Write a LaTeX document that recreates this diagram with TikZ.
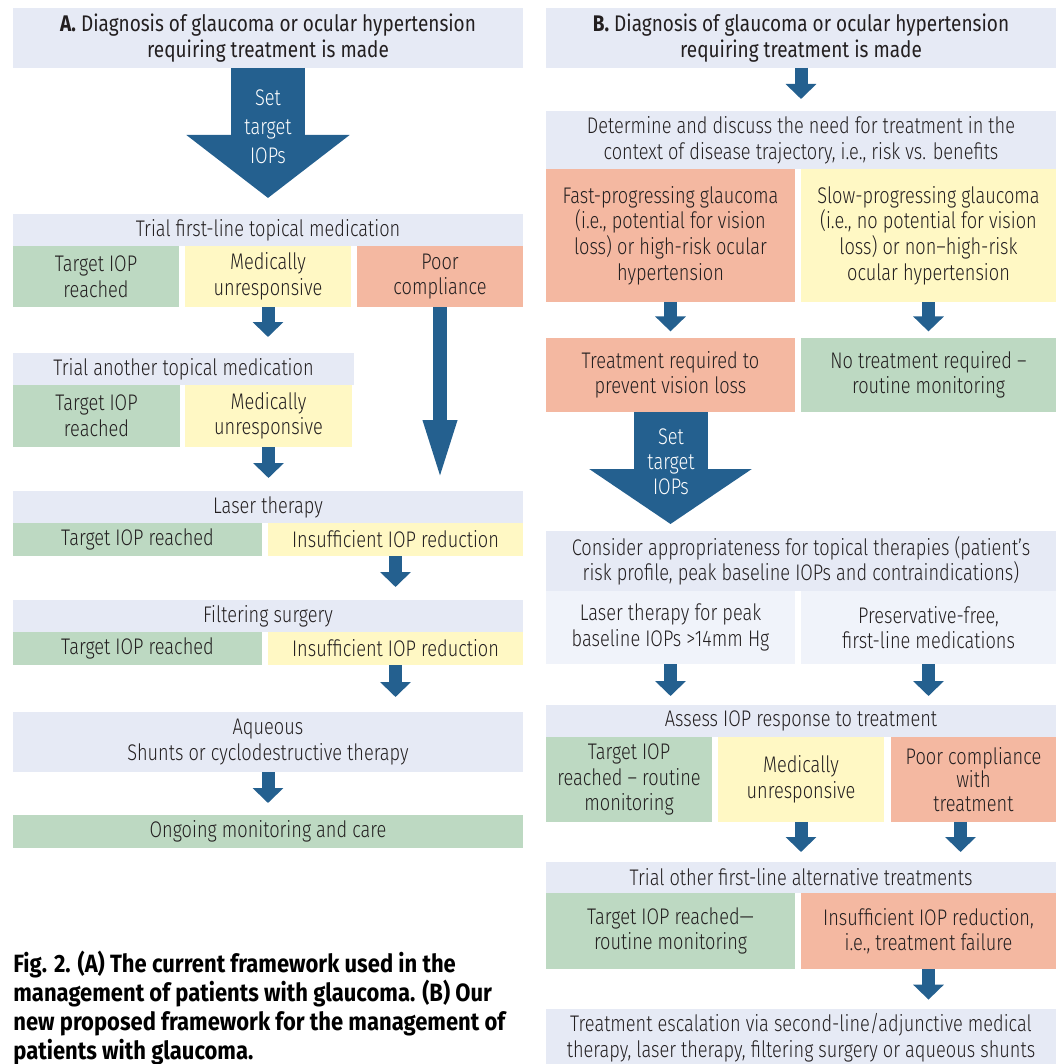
\documentclass[tikz,border=0pt]{standalone}
\usepackage{fontspec}
\setmainfont{Fira Sans}[FakeStretch=0.805,UprightFont={* Light},BoldFont={* Bold}]
\newfontfamily\hdfont{Fira Sans}[FakeStretch=0.84]
\newfontfamily\capfont{Fira Sans}[FakeStretch=0.88]
\usetikzlibrary{arrows.meta,calc}
\definecolor{hdr}{HTML}{E6EAF5}
\definecolor{grn}{HTML}{BDD9C2}
\definecolor{yel}{HTML}{FFF8C4}
\definecolor{sal}{HTML}{F4B8A1}
\definecolor{lite}{HTML}{F0F3FA}
\definecolor{arr}{HTML}{24608F}
\definecolor{txt}{HTML}{231F20}
\newcommand\bodyfont{\fontsize{11.3}{12.8}\selectfont}
\newcommand\bx[8][]{\node[bx,#1,fill=#7,minimum width={(#5-#3)*0.5pt},minimum height={(#6-#4)*0.5pt}] (#2) at ({(#3+#5)/2},{(#4+#6)/2}) {#8};}
\begin{document}
\begin{tikzpicture}[x=0.5pt,y=-0.5pt,
  bx/.style={inner sep=0pt,outer sep=0pt,align=center,text=txt,font=\bodyfont},
  hd/.style={font={\hdfont\bodyfont}},
  sarrow/.style={draw=arr,line width=6.5pt,-{Triangle[width=15pt,length=7.5pt]}},
  larrow/.style={draw=arr,line width=7pt,-{Triangle[width=15pt,length=31pt]}},
  barrow/.style={draw=arr,line width=37pt,-{Triangle[width=80pt,length=#1]}},
  arrtext/.style={inner sep=0pt,align=center,text=white}]
\useasboundingbox (0,0) rectangle (1060,1064);
\clip (0,0) rectangle (1060,1064);
% ---------- Panel A ----------
\bx[hd]{hdrA}{13}{8}{523}{68}{hdr}{\textbf{A.} Diagnosis of glaucoma or ocular hypertension\\requiring treatment is made}
\bx{t1}{13}{214}{523}{246}{hdr}{Trial first-line topical medication}
\bx{t1g}{13}{246}{179}{307}{grn}{Target IOP\\reached}
\bx{t1y}{185}{246}{351}{307}{yel}{Medically\\unresponsive}
\bx{t1s}{357}{246}{523}{307}{sal}{Poor\\compliance}
\bx{t2}{13}{353}{354}{385}{hdr}{Trial another topical medication}
\bx{t2g}{13}{385}{180}{447}{grn}{Target IOP\\reached}
\bx{t2y}{185}{385}{352}{447}{yel}{Medically\\unresponsive}
\bx{laser}{13}{491}{523}{523}{hdr}{Laser therapy}
\bx{lg}{13}{523}{262}{556}{grn}{Target IOP reached}
\bx{ly}{268}{523}{523}{556}{yel}{Insufficient IOP reduction}
\bx{filt}{13}{600}{523}{632}{hdr}{Filtering surgery}
\bx{fg}{13}{632}{262}{665}{grn}{Target IOP reached}
\bx{fy}{268}{632}{523}{665}{yel}{Insufficient IOP reduction}
\bx{aq}{13}{712}{523}{772}{hdr}{Aqueous\\Shunts or cyclodestructive therapy}
\bx{ong}{13}{815}{523}{848}{grn}{Ongoing monitoring and care}
\draw[barrow=31.5pt,shorten >=8pt] (hdrA.south) -- (hdrA.south |- t1.north);
\node[arrtext,font=\fontsize{11.3}{14.5}\selectfont] (setA) at (268,127) {Set\\target\\IOPs};
\draw[sarrow,shorten >=8pt] (t1y.south) -- (t1y.south |- t2.north);
\draw[larrow,shorten >=4.5pt] (t1s.south) -- (t1s.south |- laser.north);
\draw[sarrow,shorten >=6.5pt] (t2y.south) -- (t2y.south |- laser.north);
\draw[sarrow,shorten >=6.5pt] (ly.south) -- (ly.south |- filt.north);
\draw[sarrow,shorten >=7.5pt] (fy.south) -- (fy.south |- aq.north);
\draw[sarrow,shorten >=6pt] (aq.south) -- (aq.south |- ong.north);
% ---------- Panel B ----------
\bx[hd]{hdrB}{546}{8}{1056}{68}{hdr}{\textbf{B.} Diagnosis of glaucoma or ocular hypertension\\requiring treatment is made}
\bx{det}{546}{111}{1056}{169}{hdr}{Determine and discuss the need for treatment in the\\context of disease trajectory, i.e., risk vs. benefits}
\bx{fast}{546}{169}{795}{302}{sal}{Fast-progressing glaucoma\\(i.e., potential for vision\\loss) or high-risk ocular\\hypertension}
\bx{slow}{801}{169}{1056}{302}{yel}{Slow-progressing glaucoma\\(i.e., no potential for vision\\loss) or non–high-risk\\ocular hypertension}
\bx{treat}{546}{338}{795}{412}{sal}{Treatment required to\\prevent vision loss}
\bx{notr}{801}{338}{1056}{412}{grn}{No treatment required –\\routine monitoring}
\bx{cons}{546}{531}{1056}{591}{hdr}{Consider appropriateness for topical therapies (patient’s\\risk profile, peak baseline IOPs and contraindications)}
\bx{lasB}{546}{591}{795}{664}{lite}{Laser therapy for peak\\baseline IOPs >14mm Hg}
\bx{pres}{801}{591}{1056}{664}{lite}{Preservative-free,\\first-line medications}
\bx{assess}{546}{705}{1056}{737}{hdr}{Assess IOP response to treatment}
\bx{ag}{546}{737}{712}{822}{grn}{Target IOP\\reached – routine\\monitoring}
\bx{ay}{718}{737}{884}{822}{yel}{Medically\\unresponsive}
\bx[font=\fontsize{11.3}{11.6}\selectfont]{as}{891}{737}{1056}{822}{sal}{Poor compliance\\with\\treatment}
\bx{tro}{546}{862}{1056}{893}{hdr}{Trial other first-line alternative treatments}
\bx{tog}{546}{893}{795}{969}{grn}{Target IOP reached—\\routine monitoring}
\bx{tos}{801}{893}{1056}{969}{sal}{Insufficient IOP reduction,\\i.e., treatment failure}
\bx{esc}{546}{1009}{1056}{1067}{hdr}{Treatment escalation via second-line/adjunctive medical\\therapy, laser therapy, filtering surgery or aqueous shunts}
\draw[sarrow,shorten >=6pt] (hdrB.south) -- (hdrB.south |- det.north);
\draw[sarrow,shorten >=3.3pt] (fast.south) -- (fast.south |- treat.north);
\draw[sarrow,shorten >=3.3pt] (slow.south) -- (slow.south |- notr.north);
\draw[barrow=27.5pt,shorten >=3.5pt] (treat.south) -- (treat.south |- cons.north);
\node[arrtext,font=\fontsize{11.3}{12.5}\selectfont] (setB) at (671,462) {Set\\target\\IOPs};
\draw[sarrow,shorten >=4.5pt] (lasB.south) -- (lasB.south |- assess.north);
\draw[sarrow,shorten >=4.5pt] (pres.south) -- (pres.south |- assess.north);
\draw[sarrow,shorten >=5pt] (ay.south) -- (ay.south |- tro.north);
\coordinate (asx) at ($(as.south)+(-13,0)$);
\draw[sarrow,shorten >=5pt] (asx) -- (asx |- tro.north);
\draw[sarrow,shorten >=4.7pt] (tos.south) -- (tos.south |- esc.north);
% ---------- Caption ----------
\node[anchor=north west,inner sep=0pt,align=left,text=black,font=\capfont\bfseries\fontsize{12.5}{14.5}\selectfont] (cap) at (13,951) {Fig. 2. (A) The current framework used in the\\management of patients with glaucoma. (B) Our\\new proposed framework for the management of\\patients with glaucoma.};
\end{tikzpicture}
\end{document}
